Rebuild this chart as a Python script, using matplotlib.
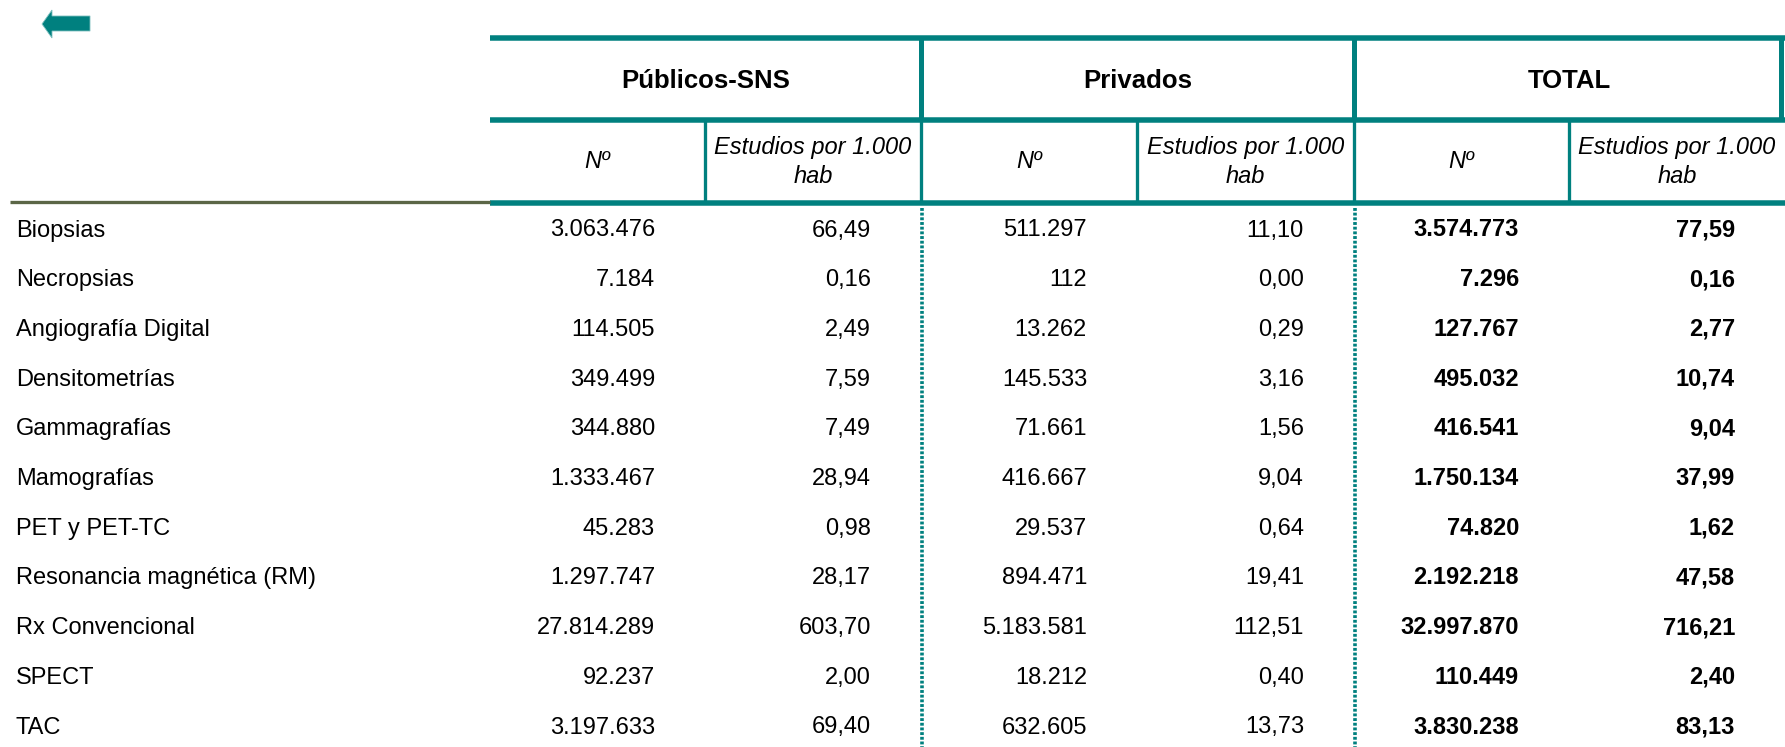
import matplotlib
matplotlib.use('Agg')
import matplotlib.pyplot as plt
from matplotlib.patches import Polygon

plt.rcParams['font.family'] = ['Liberation Sans', 'DejaVu Sans']

# data
estudios = ['Biopsias', 'Necropsias', 'Angiografía Digital', 'Densitometrías',
            'Gammagrafías', 'Mamografías', 'PET y PET-TC',
            'Resonancia magnética (RM)', 'Rx Convencional', 'SPECT', 'TAC']
publicos_n = ['3.063.476', '7.184', '114.505', '349.499', '344.880', '1.333.467',
              '45.283', '1.297.747', '27.814.289', '92.237', '3.197.633']
publicos_tasa = ['66,49', '0,16', '2,49', '7,59', '7,49', '28,94',
                 '0,98', '28,17', '603,70', '2,00', '69,40']
privados_n = ['511.297', '112', '13.262', '145.533', '71.661', '416.667',
              '29.537', '894.471', '5.183.581', '18.212', '632.605']
privados_tasa = ['11,10', '0,00', '0,29', '3,16', '1,56', '9,04',
                 '0,64', '19,41', '112,51', '0,40', '13,73']
total_n = ['3.574.773', '7.296', '127.767', '495.032', '416.541', '1.750.134',
           '74.820', '2.192.218', '32.997.870', '110.449', '3.830.238']
total_tasa = ['77,59', '0,16', '2,77', '10,74', '9,04', '37,99',
              '1,62', '47,58', '716,21', '2,40', '83,13']
grupos = ['Públicos-SNS', 'Privados', 'TOTAL']
sub_n = 'Nº'
sub_tasa = ['Estudios por 1.000', 'hab']

TEAL = '#00807f'
OLIVE = '#5b6646'
W, H = 1785, 747

fig = plt.figure(figsize=(W / 100, H / 100), dpi=100)
ax = fig.add_axes([0, 0, 1, 1])
ax.set_xlim(0, W)
ax.set_ylim(H, 0)
ax.axis('off')

px = 0.72  # points per pixel at dpi 100
x0 = 490
gx = [490, 921, 1354, 1785]          # group borders
sx = [490, 705, 921, 1137, 1354, 1569, 1785]  # sub column borders
y_top, y_mid, y_bot = 38, 120, 203

# back arrow
arrow = Polygon([(42, 24), (52, 10), (52, 16), (90, 16), (90, 31), (52, 31), (52, 38)],
                closed=True, facecolor=TEAL, edgecolor='#7fc0bf', lw=0.6)
ax.add_patch(arrow)

# header lines
for y in (y_top, y_mid, y_bot):
    ax.plot([x0, W], [y, y], color=TEAL, lw=5.5 * px, solid_capstyle='butt')
ax.plot([10, x0], [y_bot - 1, y_bot - 1], color=OLIVE, lw=3.3 * px, solid_capstyle='butt')
for x in (921, 1354, 1781):
    ax.plot([x, x], [y_top, y_mid], color=TEAL, lw=5 * px, solid_capstyle='butt')
for x in sx[1:-1]:
    ax.plot([x, x], [y_mid, y_bot], color=TEAL, lw=3.3 * px, solid_capstyle='butt')

# dotted separators in the body
for x in (921, 1354):
    ax.plot([x + 0.5, x + 0.5], [208, H], color=TEAL, lw=3.6 * px,
            linestyle=(0, (0.8, 0.5)), dash_capstyle='butt')

# header text
for i, g in enumerate(grupos):
    ax.text((gx[i] + gx[i + 1]) / 2, 88, g, ha='center', va='baseline',
            fontsize=18.5, fontweight='bold', color='black')
for i in range(3):
    cn = (sx[2 * i] + sx[2 * i + 1]) / 2
    ct = (sx[2 * i + 1] + sx[2 * i + 2]) / 2
    ax.text(cn, 168, sub_n, ha='center', va='baseline', fontsize=17, style='italic')
    ax.text(ct, 154, sub_tasa[0], ha='center', va='baseline', fontsize=17, style='italic')
    ax.text(ct, 183, sub_tasa[1], ha='center', va='baseline', fontsize=17, style='italic')

# body
cols = [publicos_n, publicos_tasa, privados_n, privados_tasa, total_n, total_tasa]
for r, name in enumerate(estudios):
    yb = 236.5 + 49.7 * r
    ax.text(16, yb, name, ha='left', va='baseline', fontsize=17)
    for c, vals in enumerate(cols):
        ax.text(sx[c + 1] - 50, yb, vals[r], ha='right', va='baseline', fontsize=17,
                fontweight='bold' if c >= 4 else 'normal')

fig.savefig('out.png', dpi=100)
